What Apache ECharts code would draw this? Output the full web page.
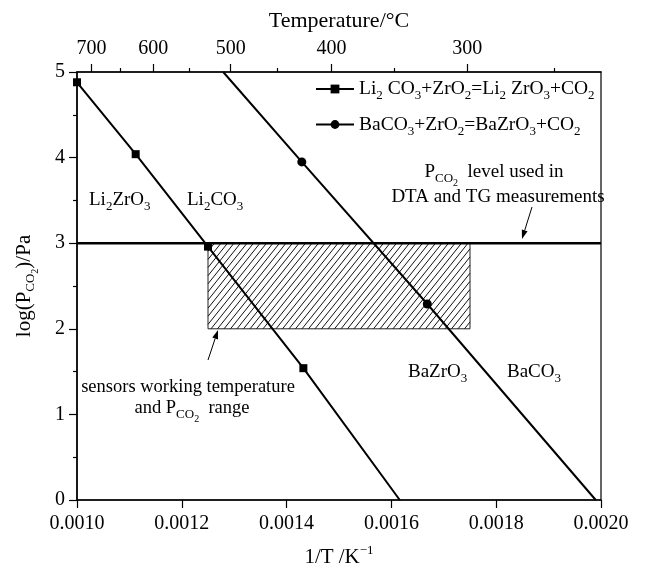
<!DOCTYPE html>
<html><head><meta charset="utf-8">
<script src="https://cdn.jsdelivr.net/npm/echarts@6/dist/echarts.min.js"></script>
<style>html,body{margin:0;padding:0;background:#fff}#c{width:649px;height:570px}</style>
</head><body><div id="c"></div>
<script>
// ---- data ----
const liX = [0.0010, 0.001112, 0.00125, 0.001432, 0.001616];
const liY = [4.88, 4.04, 2.96, 1.54, 0];
const liMarked = [true, true, true, true, false];
const baX = [0.001279, 0.001429, 0.0016685, 0.00199];
const baY = [5, 3.95, 2.29, 0];
const baMarked = [false, true, true, false];
const levelX = [0.0010, 0.0020];
const levelY = [3, 3];
const rangeX = [0.00125, 0.00175];
const rangeY = [2, 3];
const xRange = [0.0010, 0.0020];
const xStep = 0.0002;
const yRange = [0, 5];
const yStep = 1;
const tempMajor = [700, 600, 500, 400, 300];
const tempMinor = [650, 550, 450, 350, 250];
const seriesNames = ['Li', 'Ba'];

const FONT = 'Liberation Serif';
const K0 = 273.15;
const inv = t => 1 / (t + K0);

const richBase = {
  n: {fontFamily: FONT, fontSize: 19, color: '#000'},
  s: {fontFamily: FONT, fontSize: 13, color: '#000', padding: [14, 0, 0, 0]},
  ss: {fontFamily: FONT, fontSize: 10, color: '#000', padding: [22, 0, 0, 0]},
  sup: {fontFamily: FONT, fontSize: 13, color: '#000', padding: [0, 0, 14, 0]}
};
function rich(size) {
  return {
    n: Object.assign({}, richBase.n, {fontSize: size}),
    s: richBase.s, ss: richBase.ss, sup: richBase.sup
  };
}
const legendText = {
  Li: '{n|Li}{s|2}{n| CO}{s|3}{n|+ZrO}{s|2}{n|=Li}{s|2}{n| ZrO}{s|3}{n|+CO}{s|2}',
  Ba: '{n|BaCO}{s|3}{n|+ZrO}{s|2}{n|=BaZrO}{s|3}{n|+CO}{s|2}'
};

function pts(xs, ys, marked) {
  return xs.map((x, i) => marked[i] ? [x, ys[i]] : {value: [x, ys[i]], symbol: 'none'});
}

function txt(x, y, text, align, size) {
  return {
    type: 'text', x: x, y: y, z: 50,
    style: {text: text, rich: rich(size || 19), font: (size || 19) + 'px ' + FONT,
            fill: '#000', textAlign: align, textVerticalAlign: 'middle', align: align, verticalAlign: 'middle'}
  };
}
function arrow(x1, y1, x2, y2) {
  const a = Math.atan2(y2 - y1, x2 - x1), L = 9, W = 3;
  const bx = x2 - L * Math.cos(a), by = y2 - L * Math.sin(a);
  const px = -Math.sin(a) * W, py = Math.cos(a) * W;
  return {
    type: 'group', z: 50, children: [
      {type: 'line', shape: {x1: x1, y1: y1, x2: bx, y2: by}, style: {stroke: '#000', lineWidth: 1}},
      {type: 'polygon', shape: {points: [[x2, y2], [bx + px, by + py], [bx - px, by - py]]}, style: {fill: '#000'}}
    ]
  };
}

const axisCommon = {
  axisLine: {onZero: false, lineStyle: {color: '#000', width: 1.5}},
  splitLine: {show: false}
};

const option = {
  animation: false,
  backgroundColor: '#fff',
  grid: {left: 77, right: 48, top: 72, bottom: 70, show: true, borderColor: '#000', borderWidth: 1.2,
         outerBoundsMode: 'none', containLabel: false},
  legend: {
    data: seriesNames, orient: 'vertical', left: 315, top: 79, padding: 0,
    itemWidth: 38, itemHeight: 11, itemGap: 12,
    formatter: n => legendText[n],
    textStyle: {fontFamily: FONT, fontSize: 19.5, color: '#000', rich: rich(19.5)}
  },
  xAxis: [
    Object.assign({}, axisCommon, {
      type: 'value', position: 'bottom', min: xRange[0], max: xRange[1], interval: xStep,
      axisTick: {inside: false, length: 8, lineStyle: {color: '#000', width: 1.2}},
      axisLabel: {margin: 14, fontSize: 20, fontFamily: FONT, color: '#000', formatter: v => v.toFixed(4)},
      name: '{n|1/T /K}{sup|−1}', nameLocation: 'middle', nameGap: 44,
      nameTextStyle: {fontFamily: FONT, fontSize: 21, color: '#000', rich: rich(21)}
    }),
    Object.assign({}, axisCommon, {
      type: 'value', position: 'top', min: xRange[0], max: xRange[1],
      axisTick: {inside: false, length: 8, customValues: tempMajor.map(inv), lineStyle: {color: '#000', width: 1.2}},
      axisLabel: {margin: 13, fontSize: 20, fontFamily: FONT, color: '#000',
                  customValues: tempMajor.map(inv), formatter: v => String(Math.round(1 / v - K0))},
      name: 'Temperature/°C', nameLocation: 'middle', nameGap: 40,
      nameTextStyle: {fontFamily: FONT, fontSize: 22, color: '#000'}
    }),
    {
      type: 'value', position: 'top', min: xRange[0], max: xRange[1],
      axisLine: {show: false, onZero: false}, splitLine: {show: false},
      axisTick: {inside: false, length: 4, customValues: tempMinor.map(inv), lineStyle: {color: '#000', width: 1.2}},
      axisLabel: {show: false}
    }
  ],
  yAxis: [Object.assign({}, axisCommon, {
    type: 'value', min: yRange[0], max: yRange[1], interval: yStep,
    axisTick: {inside: false, length: 8, lineStyle: {color: '#000', width: 1.2}},
    minorTick: {show: true, splitNumber: 2, length: 4, lineStyle: {color: '#000', width: 1.2}},
    axisLabel: {margin: 12, fontSize: 20, fontFamily: FONT, color: '#000'},
    name: '{n|log(P}{s|CO}{ss|2}{n|)/Pa}', nameLocation: 'middle', nameGap: 37,
    nameTextStyle: {fontFamily: FONT, fontSize: 21, color: '#000', rich: rich(21)}
  })],
  series: [
    {
      type: 'custom', name: 'range', z: 1, silent: true,
      encode: {x: [0, 1], y: [2, 3]},
      data: [[rangeX[0], rangeX[1], rangeY[0], rangeY[1]]],
      renderItem: function (params, api) {
        const p0 = api.coord([api.value(0), api.value(3)]);
        const p1 = api.coord([api.value(1), api.value(2)]);
        const x0 = p0[0], y0 = p0[1], x1 = p1[0], y1 = p1[1];
        const h = y1 - y0, k = 1.25, step = 6.5;
        const children = [{type: 'rect', shape: {x: x0, y: y0, width: x1 - x0, height: h},
                           style: {fill: '#fff', stroke: '#222', lineWidth: 1}}];
        for (let c = x0 - h / k; c < x1; c += step) {
          const xa = Math.max(x0, c), xb = Math.min(x1, c + h / k);
          if (xb <= xa) continue;
          children.push({type: 'line', shape: {x1: xa, y1: y1 - k * (xa - c), x2: xb, y2: y1 - k * (xb - c)},
                         style: {stroke: '#111', lineWidth: 1}});
        }
        return {type: 'group', children: children};
      }
    },
    {
      type: 'line', name: 'level', z: 2, symbol: 'none',
      lineStyle: {color: '#000', width: 2.5},
      data: levelX.map((x, i) => [x, levelY[i]])
    },
    {
      type: 'line', name: 'Li', z: 3, symbol: 'rect', symbolSize: 8,
      itemStyle: {color: '#000'}, lineStyle: {color: '#000', width: 2},
      data: pts(liX, liY, liMarked)
    },
    {
      type: 'line', name: 'Ba', z: 3, symbol: 'circle', symbolSize: 9,
      itemStyle: {color: '#000'}, lineStyle: {color: '#000', width: 2},
      data: pts(baX, baY, baMarked)
    }
  ],
  graphic: [
    txt(89, 200, '{n|Li}{s|2}{n|ZrO}{s|3}', 'left'),
    txt(187, 200, '{n|Li}{s|2}{n|CO}{s|3}', 'left'),
    txt(494, 172, '{n|P}{s|CO}{ss|2}{n|  level used in}', 'center'),
    txt(498, 197, '{n|DTA and TG measurements}', 'center'),
    txt(188, 387, '{n|sensors working temperature}', 'center', 18.5),
    txt(192, 408, '{n|and P}{s|CO}{ss|2}{n|  range}', 'center', 18.5),
    txt(408, 372, '{n|BaZrO}{s|3}', 'left'),
    txt(507, 372, '{n|BaCO}{s|3}', 'left'),
    arrow(532, 207, 522, 239),
    arrow(208, 360, 218, 330)
  ]
};
const chart = echarts.init(document.getElementById('c'), null, {renderer: 'canvas'});
chart.setOption(option);
</script>
</body></html>
